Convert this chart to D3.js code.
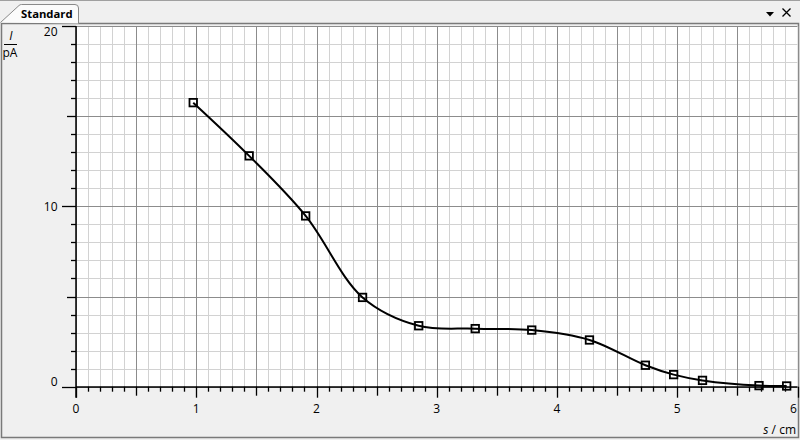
<!DOCTYPE html>
<html><head><meta charset="utf-8">
<script src="https://cdn.jsdelivr.net/npm/d3@7"></script>
<style>
html,body{margin:0;padding:0;background:#f0f0f0;}
svg{display:block;font-family:"Open Sans",sans-serif;}
</style></head>
<body>
<svg id="c" width="800" height="440"></svg>
<script>
// Data
const xValues = [0.975, 1.44, 1.91, 2.383, 2.85, 3.32, 3.79, 4.27, 4.735, 4.97, 5.21, 5.68, 5.91];
const yValues = [15.75, 12.8, 9.47, 4.95, 3.38, 3.22, 3.14, 2.59, 1.19, 0.67, 0.35, 0.06, 0.04];
const xTickLabels = [0, 1, 2, 3, 4, 5, 6];
const yTickLabels = [0, 10, 20];
const tabTitle = "Standard";

const svg = d3.select("#c");
const W = 800, H = 440;
const L = 76, R = 797.5, T = 26, B = 386.7;

const x = d3.scaleLinear().domain([0, 6]).range([L, R]);
const y = d3.scaleLinear().domain([0, 20]).range([B, T]);

// background
svg.append("rect").attr("width", W).attr("height", H).attr("fill", "#f0f0f0");
// top line
svg.append("line").attr("x1", 0).attr("x2", W).attr("y1", 0.5).attr("y2", 0.5).attr("stroke", "#a0a0a0");
// frame
svg.append("rect").attr("x", 1.5).attr("y", 23.5).attr("width", 797).attr("height", 414)
  .attr("fill", "none").attr("stroke", "#7a7a7a").attr("stroke-width", 1.5);
// tab
svg.append("path")
  .attr("d", "M0.5,22.5 L19,5.5 Q20,4.5 21.5,4.5 L75,4.5 Q78.5,4.5 78.5,8 L78.5,23.5")
  .attr("fill", "#fbfbfb").attr("stroke", "#8a8a8a").attr("stroke-width", 1);
svg.append("text").attr("x", 21).attr("y", 18).attr("font-size", 11.3).attr("font-weight", "bold")
  .attr("fill", "#000").text(tabTitle);
// dropdown triangle and close
svg.append("path").attr("d", "M766,12 L774,12 L770,16.5 Z").attr("fill", "#000");
svg.append("path").attr("d", "M782.5,8.5 L790.5,16.5 M790.5,8.5 L782.5,16.5")
  .attr("stroke", "#000").attr("stroke-width", 1.3);

// plot bg
svg.append("rect").attr("x", L).attr("y", T).attr("width", R - L).attr("height", B - T).attr("fill", "#fff");

const grid = svg.append("g");
const minorX = d3.range(0, 61).map(i => i / 10);
const minorY = d3.range(0, 21);
grid.selectAll(".vx").data(minorX).join("line")
  .attr("x1", d => Math.round(x(d)) + 0.5).attr("x2", d => Math.round(x(d)) + 0.5)
  .attr("y1", T).attr("y2", B)
  .attr("stroke", (d, i) => i % 5 === 0 ? "#8c8c8c" : "#d2d2d2").attr("stroke-width", 1);
grid.selectAll(".hy").data(minorY).join("line")
  .attr("y1", d => Math.round(y(d)) + 0.5).attr("y2", d => Math.round(y(d)) + 0.5)
  .attr("x1", L).attr("x2", R)
  .attr("stroke", (d, i) => i % 5 === 0 ? "#8c8c8c" : "#d2d2d2").attr("stroke-width", 1);
// redraw major lines on top
grid.selectAll(".vxm").data(minorX.filter((d, i) => i % 5 === 0)).join("line")
  .attr("x1", d => Math.round(x(d)) + 0.5).attr("x2", d => Math.round(x(d)) + 0.5)
  .attr("y1", T).attr("y2", B).attr("stroke", "#8c8c8c");

// axes
const ax = svg.append("g");
ax.append("line").attr("x1", L).attr("x2", R).attr("y1", B + 0.3).attr("y2", B + 0.3).attr("stroke", "#000").attr("stroke-width", 1.5);
ax.append("line").attr("x1", L).attr("x2", L).attr("y1", T).attr("y2", B + 11).attr("stroke", "#000").attr("stroke-width", 1.5);
// x ticks
ax.selectAll(".xt").data(minorX).join("line")
  .attr("x1", d => Math.round(x(d)) + 0.5).attr("x2", d => Math.round(x(d)) + 0.5)
  .attr("y1", B).attr("y2", (d, i) => B + (i % 10 === 0 ? 11 : i % 5 === 0 ? 9 : 5))
  .attr("stroke", "#000").attr("stroke-width", 1.3);
// y ticks
ax.selectAll(".yt").data(minorY).join("line")
  .attr("y1", d => Math.round(y(d)) + 0.5).attr("y2", d => Math.round(y(d)) + 0.5)
  .attr("x1", (d, i) => L - (i % 10 === 0 ? 14 : i % 5 === 0 ? 9 : 5)).attr("x2", L)
  .attr("stroke", "#000").attr("stroke-width", 1.3);

// labels
ax.selectAll(".xl").data(xTickLabels).join("text")
  .attr("x", d => Math.min(x(d), R - 4)).attr("y", 413)
  .attr("text-anchor", "middle").attr("font-size", 12).attr("fill", "#000").text(d => d);
ax.selectAll(".yl").data(yTickLabels).join("text")
  .attr("x", 57.5).attr("y", d => Math.max(32, Math.min(381.5, y(d))) + 4.3)
  .attr("text-anchor", "end").attr("font-size", 12).attr("fill", "#000").text(d => d);

// axis titles
const yt = svg.append("g");
yt.append("text").attr("x", 11).attr("y", 40).attr("font-size", 12).attr("font-style", "italic")
  .attr("text-anchor", "middle").text("I");
yt.append("line").attr("x1", 4).attr("x2", 17).attr("y1", 44.5).attr("y2", 44.5).attr("stroke", "#000");
yt.append("text").attr("x", 10).attr("y", 57).attr("font-size", 12).attr("text-anchor", "middle").text("pA");

const xt = svg.append("text").attr("x", 796).attr("y", 433.5).attr("font-size", 12).attr("text-anchor", "end");
xt.append("tspan").attr("font-style", "italic").text("s");
xt.append("tspan").text(" / cm");

// series
const pts = xValues.map((v, i) => [v, yValues[i]]);
const line = d3.line().x(d => x(d[0])).y(d => y(d[1])).curve(d3.curveCatmullRom.alpha(0.5));
svg.append("path").attr("d", line(pts)).attr("fill", "none").attr("stroke", "#000").attr("stroke-width", 2);
svg.selectAll(".m").data(pts).join("rect")
  .attr("x", d => x(d[0]) - 3.75).attr("y", d => y(d[1]) - 3.75)
  .attr("width", 7.5).attr("height", 7.5)
  .attr("fill", "none").attr("stroke", "#000").attr("stroke-width", 1.8);
</script>
</body></html>
